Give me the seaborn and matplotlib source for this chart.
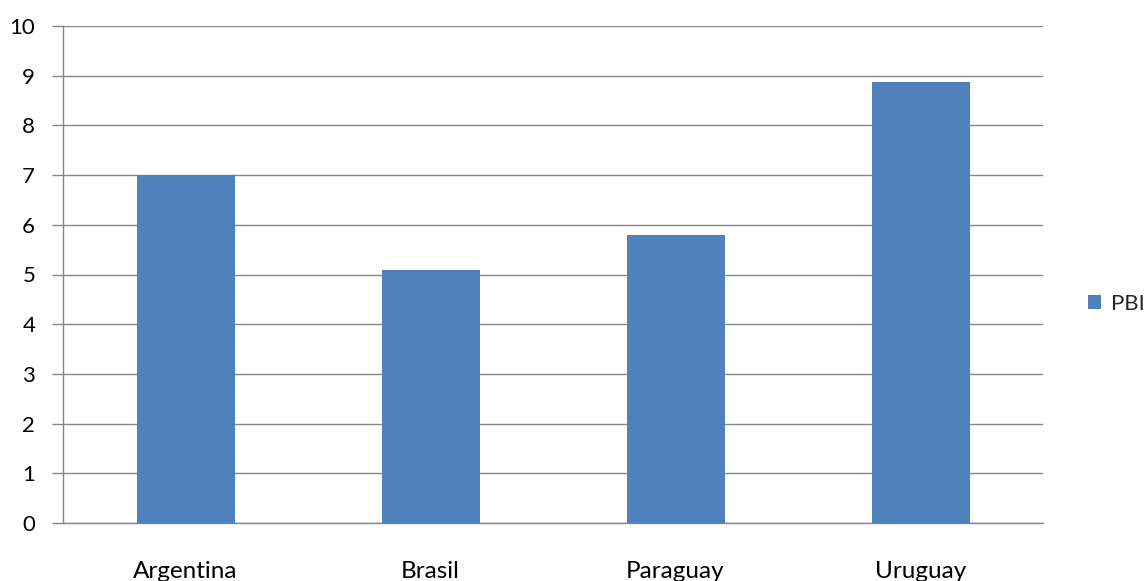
import matplotlib
matplotlib.use("Agg")
import matplotlib.pyplot as plt
import seaborn as sns
import pandas as pd
import numpy as np

countries = ["Argentina", "Brasil", "Paraguay", "Uruguay"]
pbi = [7.0, 5.1, 5.8, 8.87]
series_name = "PBI"
y_ticks = [0, 1, 2, 3, 4, 5, 6, 7, 8, 9, 10]

df = pd.DataFrame({"country": countries, series_name: pbi})

sns.set_theme(style="white")
plt.rcParams["font.family"] = ["Lato", "DejaVu Sans"]

fig = plt.figure(figsize=(11.46, 5.81), dpi=100)
ax = fig.add_axes([63/1146, 1-523/581, (1043-63)/1146, (523-26)/581])

bar_color = "#4F81BD"
grid_color = "#868686"

sns.barplot(data=df, x="country", y=series_name, color=bar_color, width=0.4,
            saturation=1, ax=ax, label=series_name, linewidth=0, zorder=3)
handles, labels = ax.get_legend_handles_labels()
if ax.get_legend() is not None:
    ax.get_legend().remove()

ax.set_xlim(-0.5, len(countries) - 0.5)
ax.set_ylim(0, 10)
ax.set_yticks(y_ticks)
ax.set_yticklabels([str(t) for t in y_ticks])
ax.yaxis.grid(True, color=grid_color, linewidth=1.0, zorder=0)
ax.set_axisbelow(True)
ax.set_xlabel("")
ax.set_ylabel("")

for s in ["top", "right"]:
    ax.spines[s].set_visible(False)
for s in ["left", "bottom"]:
    ax.spines[s].set_color(grid_color)
    ax.spines[s].set_linewidth(1.0)

# category labels (major, no tick) and boundaries (minor ticks)
ax.set_xticks(range(len(countries)))
ax.set_xticklabels(countries)
ax.set_xticks(np.arange(-0.5, len(countries) + 0.5, 1.0), minor=True)
ax.tick_params(axis="x", which="major", length=0, pad=27, labelsize=17.5, labelcolor="#000000")
ax.tick_params(axis="x", which="minor", length=7, width=0.8, color=grid_color, direction="out")
ax.tick_params(axis="y", length=8, width=1.0, color=grid_color, direction="out",
               pad=12, labelsize=16, labelcolor="#000000", left=True)

leg = fig.legend(handles[:1], labels[:1], loc="center left",
                 bbox_to_anchor=(1088/1146, 1-304/581), frameon=False,
                 fontsize=16, handlelength=0.6, handleheight=0.6,
                 handletextpad=0.45, borderaxespad=0, borderpad=0)

fig.savefig("out.png", dpi=100)
